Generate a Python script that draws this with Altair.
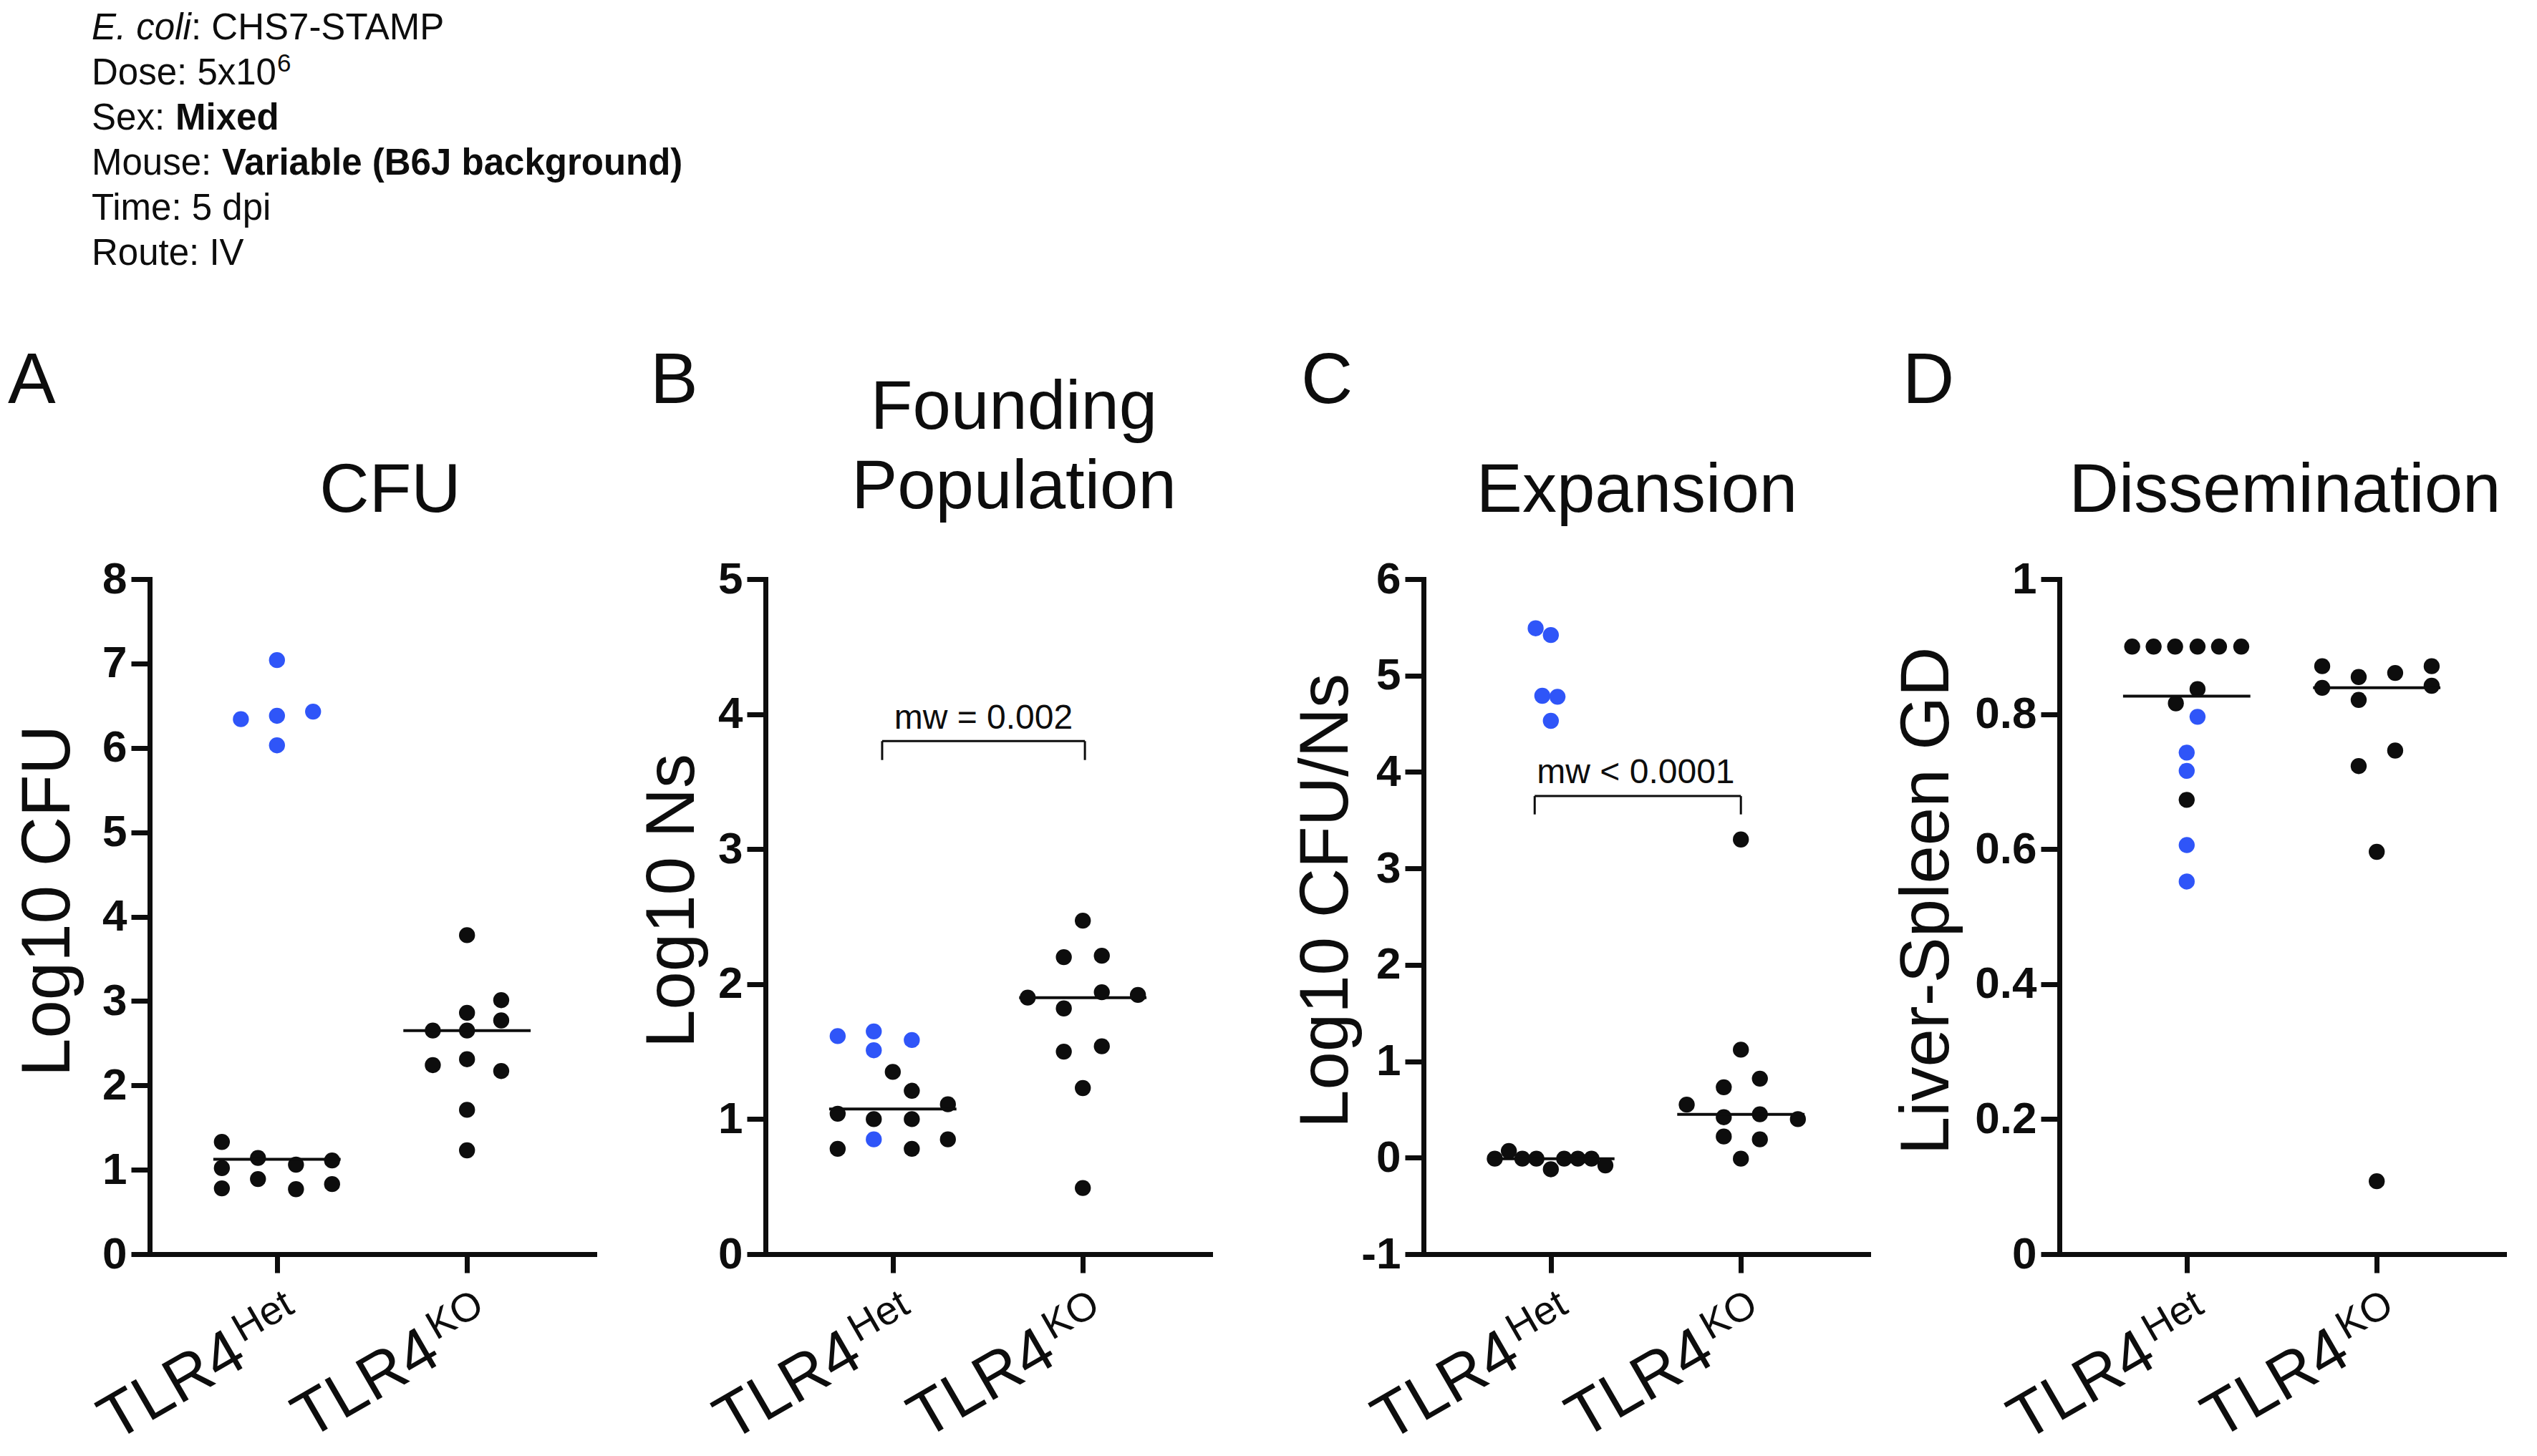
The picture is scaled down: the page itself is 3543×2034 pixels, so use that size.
import altair as alt
import pandas as pd

FONT = "Liberation Sans"
BLUE = "#2f55f8"
BLACK = "#0d0d0d"

W, H = 621, 943

# x positions: 1 = TLR4 Het, 2 = TLR4 KO
GROUP_POS = [1, 2]
LABEL_MAIN = "TLR4"
LABEL_SUP = ["Het", "KO"]
SUP_WIDTH = {"Het": 87.1, "KO": 80.9}   # advance widths at 56px (Arial metrics)

# ---------- Panel A: CFU ----------
A_het_blue = [6.34, 7.04, 6.38, 6.43, 6.03]
A_het_blue_jit = [-0.19, 0.0, 0.0, 0.19, 0.0]
A_het_black = [1.33, 1.02, 0.78, 1.14, 0.89, 1.06, 0.77, 1.11, 0.83]
A_het_black_jit = [-0.29, -0.29, -0.29, -0.10, -0.10, 0.10, 0.10, 0.29, 0.29]
A_ko = [3.78, 3.01, 2.86, 2.77, 2.65, 2.65, 2.24, 2.31, 2.17, 1.71, 1.23]
A_ko_jit = [0.0, 0.18, 0.0, 0.18, -0.18, 0.0, -0.18, 0.0, 0.18, 0.0, 0.0]
A_yticks = [0, 1, 2, 3, 4, 5, 6, 7, 8]

# ---------- Panel B: Founding Population ----------
B_het_blue = [1.615, 1.65, 1.51, 1.586, 0.85]
B_het_blue_jit = [-0.29, -0.10, -0.10, 0.10, -0.10]
B_het_black = [1.35, 1.21, 1.04, 1.00, 1.00, 1.11, 0.78, 0.78, 0.85]
B_het_black_jit = [0.0, 0.10, -0.29, -0.10, 0.10, 0.29, -0.29, 0.10, 0.29]
B_ko = [2.47, 2.20, 2.21, 1.90, 1.94, 1.92, 1.82, 1.50, 1.54, 1.23, 0.49]
B_ko_jit = [0.0, -0.10, 0.10, -0.29, 0.10, 0.29, -0.10, -0.10, 0.10, 0.0, 0.0]
B_yticks = [0, 1, 2, 3, 4, 5]

# ---------- Panel C: Expansion ----------
C_het_blue = [5.49, 5.42, 4.79, 4.78, 4.53]
C_het_blue_jit = [-0.08, 0.0, -0.045, 0.035, 0.0]
C_het_black = [-0.01, 0.07, -0.01, -0.01, -0.12, -0.01, -0.01, -0.01, -0.08]
C_het_black_jit = [-0.295, -0.221, -0.15, -0.076, 0.0, 0.07, 0.142, 0.214, 0.287]
C_ko = [3.30, 1.12, 0.82, 0.73, 0.55, 0.42, 0.45, 0.40, 0.22, 0.19, -0.01]
C_ko_jit = [0.0, 0.0, 0.10, -0.09, -0.285, -0.09, 0.10, 0.30, -0.09, 0.10, 0.0]
C_yticks = [-1, 0, 1, 2, 3, 4, 5, 6]

# ---------- Panel D: Dissemination ----------
D_het_blue = [0.796, 0.743, 0.716, 0.606, 0.552]
D_het_blue_jit = [0.057, 0.0, 0.0, 0.0, 0.0]
D_het_black = [0.90, 0.90, 0.90, 0.90, 0.90, 0.90, 0.837, 0.816, 0.673]
D_het_black_jit = [-0.287, -0.174, -0.061, 0.057, 0.170, 0.287, 0.057, -0.057, 0.0]
D_ko = [0.871, 0.839, 0.855, 0.821, 0.861, 0.871, 0.842, 0.746, 0.723, 0.596, 0.108]
D_ko_jit = [-0.287, -0.287, -0.095, -0.095, 0.097, 0.289, 0.289, 0.097, -0.095, 0.0, 0.0]
D_yticks = [0, 0.2, 0.4, 0.6, 0.8, 1]

# significance annotations: (x_left, x_right, y_bar, y_end, text_x, text_y, text)
B_bracket = (0.944, 2.011, 3.80, 3.66, 1.477, 3.89, "mw = 0.002")
C_bracket = (0.915, 2.0, 3.75, 3.56, 1.447, 3.887, "mw < 0.0001")

ONE = alt.Data(values=[{"k": 0}])


def make_df(het_blue, het_blue_jit, het_black, het_black_jit, ko, ko_jit):
    rows = []
    for v, j in zip(het_blue, het_blue_jit):
        rows.append({"grp": 1, "value": v, "jit": j, "kind": "blue"})
    for v, j in zip(het_black, het_black_jit):
        rows.append({"grp": 1, "value": v, "jit": j, "kind": "black"})
    for v, j in zip(ko, ko_jit):
        rows.append({"grp": 2, "value": v, "jit": j, "kind": "black"})
    return pd.DataFrame(rows)


def text_layer(text, x, y, size, weight="normal", style="normal", align="left",
               angle=0, dx=0, dy=0):
    return alt.Chart(ONE).mark_text(
        text=text, font=FONT, fontSize=size, fontWeight=weight, fontStyle=style,
        align=align, baseline="alphabetic", angle=angle, dx=dx, dy=dy, color=BLACK
    ).encode(x=x, y=y)


def panel(df, ydom, yticks, ytitle, ytitle_x, letter, letter_x,
          titles, title_cx, extra=None, bracket=None):
    xenc = alt.X("xpos:Q", scale=alt.Scale(domain=[0.33, 2.67], nice=False, zero=False),
                 axis=alt.Axis(values=GROUP_POS, labels=False, title=None, grid=False))
    yenc = alt.Y("value:Q", scale=alt.Scale(domain=ydom, nice=False, zero=False),
                 axis=alt.Axis(values=yticks, title=ytitle, titleX=ytitle_x, titleY=449,
                               titleAngle=270, titleAlign="center",
                               titleBaseline="alphabetic",
                               labelExpr="'' + datum.value", grid=False,
                               labelOverlap=False))
    pts = alt.Chart(df).transform_calculate(
        xpos="datum.grp + datum.jit"
    ).mark_circle(size=500, opacity=1).encode(
        x=xenc, y=yenc,
        color=alt.Color("kind:N", scale=alt.Scale(domain=["black", "blue"],
                                                  range=[BLACK, BLUE]), legend=None))
    med = alt.Chart(df).transform_aggregate(
        value="median(value)", groupby=["grp"]
    ).transform_calculate(
        xpos="datum.grp - 0.335", xpos2="datum.grp + 0.335"
    ).mark_rule(color=BLACK, strokeWidth=4).encode(x=xenc, x2="xpos2:Q", y=yenc)
    layers = [pts, med]

    # category labels with superscripts (rotated 30 degrees)
    for g, sup in zip(GROUP_POS, LABEL_SUP):
        layers.append(text_layer(sup, alt.datum(g), alt.value(H), 56, align="right",
                                 angle=330, dx=-17, dy=83))
        layers.append(text_layer(LABEL_MAIN, alt.datum(g), alt.value(H), 89, align="right",
                                 angle=330, dx=-17 - SUP_WIDTH[sup] - 6, dy=114))

    # panel letter and title
    layers.append(text_layer(letter, alt.value(letter_x), alt.value(-246), 100))
    for t, yb in titles:
        layers.append(text_layer(t, alt.value(title_cx), alt.value(yb), 96, align="center"))

    if bracket is not None:
        x1, x2, yb, ye, tx, ty, tt = bracket
        layers.append(alt.Chart(ONE).mark_rule(color=BLACK, strokeWidth=3).encode(
            x=alt.datum(x1), x2=alt.datum(x2), y=alt.datum(yb)))
        layers.append(alt.Chart(ONE).mark_rule(color=BLACK, strokeWidth=3).encode(
            x=alt.datum(x1), y=alt.datum(yb), y2=alt.datum(ye)))
        layers.append(alt.Chart(ONE).mark_rule(color=BLACK, strokeWidth=3).encode(
            x=alt.datum(x2), y=alt.datum(yb), y2=alt.datum(ye)))
        layers.append(text_layer(tt, alt.datum(tx), alt.datum(ty), 48, align="center"))

    if extra:
        layers.extend(extra)
    return alt.layer(*layers).properties(width=W, height=H)


# header block (drawn in panel A's coordinate frame)
HS = 51
header = [
    text_layer("E. coli", alt.value(-81), alt.value(-754), HS, style="italic"),
    text_layer(": CHS7-STAMP", alt.value(58), alt.value(-754), HS),
    text_layer("Dose: 5x10", alt.value(-81), alt.value(-691), HS),
    text_layer("6", alt.value(178), alt.value(-709), 35),
    text_layer("Sex: ", alt.value(-81), alt.value(-628), HS),
    text_layer("Mixed", alt.value(36), alt.value(-628), HS, weight="bold"),
    text_layer("Mouse: ", alt.value(-81), alt.value(-565), HS),
    text_layer("Variable (B6J background)", alt.value(101), alt.value(-565), HS, weight="bold"),
    text_layer("Time: 5 dpi", alt.value(-81), alt.value(-502), HS),
    text_layer("Route: IV", alt.value(-81), alt.value(-439), HS),
]

dfA = make_df(A_het_blue, A_het_blue_jit, A_het_black, A_het_black_jit, A_ko, A_ko_jit)
dfB = make_df(B_het_blue, B_het_blue_jit, B_het_black, B_het_black_jit, B_ko, B_ko_jit)
dfC = make_df(C_het_blue, C_het_blue_jit, C_het_black, C_het_black_jit, C_ko, C_ko_jit)
dfD = make_df(D_het_blue, D_het_blue_jit, D_het_black, D_het_black_jit, D_ko, D_ko_jit)

pA = panel(dfA, [0, 8], A_yticks, "Log10 CFU", -113, "A", -198,
           [("CFU", -94)], 336, extra=header)
pB = panel(dfB, [0, 5], B_yticks, "Log10 Ns", -101, "B", -161,
           [("Founding", -210), ("Population", -99)], 347, bracket=B_bracket)
pC = panel(dfC, [-1, 6], C_yticks, "Log10 CFU/Ns", -107, "C", -171,
           [("Expansion", -94)], 298, bracket=C_bracket)
pD = panel(dfD, [0, 1], D_yticks, "Liver-Spleen GD", -156, "D", -219,
           [("Dissemination", -94)], 315)


def spacer(w):
    return alt.Chart(ONE).mark_rect(opacity=0).encode(
        x=alt.value(0), x2=alt.value(1), y=alt.value(0), y2=alt.value(1)
    ).properties(width=w, height=H)


chart = alt.hconcat(pA, spacer(239), pB, spacer(298), pC, spacer(267), pD,
                    spacing=0, bounds="flush").properties(
    padding={"left": 3, "top": 6, "right": 10, "bottom": 0}
).configure_view(stroke=None).configure_axis(
    domainColor=BLACK, domainWidth=7, domainCap="square",
    tickColor=BLACK, tickWidth=7, tickSize=26,
    labelFont=FONT, labelFontSize=62, labelFontWeight="bold", labelColor=BLACK,
    labelPadding=6,
    titleFont=FONT, titleFontSize=96, titleFontWeight="normal", titleColor=BLACK,
    grid=False
)

chart.save("out.html", embed_options={"renderer": "svg", "actions": False})
